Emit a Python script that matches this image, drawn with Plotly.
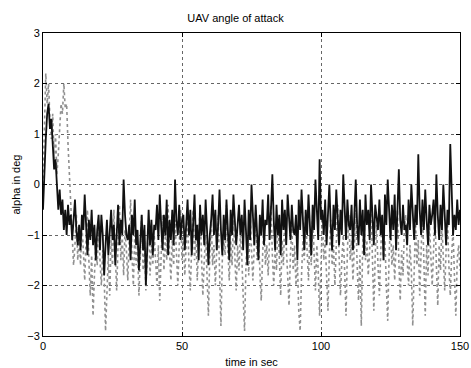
import numpy as np
import plotly.graph_objects as go

# Black (solid) series, sampled every 0.5 s, 0..150 s
black_0_10 = [-0.5, 0.4, 0.9, 1.4, 1.6, 1.1, 1.3, 0.8, 0.3, 0.5, -0.1, -0.5, -0.1, -0.6, -0.3, -0.9, -0.5, -1.0, -0.4, -0.8, -0.6]
black_rest = [
    -1.1, -0.7, -0.3, -0.9, -1.2, -0.8, -1.3, -0.6, -0.9, -0.2, -1.0, -1.4, -0.7, -1.1, -0.5, -1.2, -0.8, -1.5, -0.9, -0.6,
    -1.3, -0.6, -1.0, -1.8, -1.2, -0.7, -1.4, -1.0, -0.5, -1.1, -0.8, -1.6, -0.9, -0.4, -1.2, -0.7, -1.0, 0.1, -0.6, -1.0,
    -1.1, -0.8, -1.5, -0.6, -1.0, -0.3, -1.2, -0.9, -1.7, -1.1, -0.6, -1.3, -0.8, -2.0, -1.0, -0.5, -1.2, -0.7, -1.4, -0.8,
    -0.9, -0.4, -1.1, -0.2, -0.8, -1.3, -0.6, -1.0, -0.3, -1.4, -0.7, -1.1, -0.5, -1.2, 0.1, -0.7, -1.0, -0.4, -1.1, -0.7,
    -0.6, -1.3, -0.8, -0.3, -1.0, -0.5, -1.4, -0.7, -0.2, -1.1, -0.8, -1.5, -0.4, -1.0, -0.6, -1.2, -0.3, -0.9, -1.6, -1.0,
    -0.7, -0.2, -1.0, -0.5, -1.3, -0.8, -0.1, -0.9, -1.4, -0.6, -1.1, -0.3, -0.8, -1.5, -0.5, -1.0, -0.2, -0.7, -1.2, -0.8,
    -0.4, -1.0, -0.6, -1.3, -0.3, -0.9, -1.6, -0.5, -1.1, 0.0, -0.7, -1.2, -0.4, -0.9, -1.5, -0.6, -1.0, -0.3, -1.2, -0.7,
    -0.8, -0.2, -1.1, -0.5, 0.2, -0.7, -1.3, -0.4, -1.0, -0.6, -1.4, -0.3, -0.9, -0.5, -1.2, -0.2, -0.8, -1.1, -0.4, -0.9,
    -1.0, -0.6, -1.5, -0.3, -0.9, -0.1, -0.7, -1.3, -0.5, -1.0, -0.2, -0.8, -1.4, -0.4, -0.9, 0.1, -0.6, -1.1, 0.5, -0.7,
    -0.5, -1.0, -0.3, -1.2, -0.6, 0.0, -0.8, -1.3, -0.4, -0.9, -0.1, -0.7, -1.2, -0.5, -1.0, 0.2, -0.6, -1.1, -0.3, -0.8,
    -0.9, -0.4, -1.3, -0.6, 0.1, -0.8, -1.2, -0.3, -1.0, -0.5, -1.4, -0.2, -0.8, -0.5, -1.1, 0.0, -0.7, -1.2, -0.4, -0.7,
    -0.9, -0.3, -1.0, -0.6, -1.5, -0.2, -0.8, 0.1, -0.6, -1.1, -0.4, -0.9, -0.2, -1.3, -0.5, 0.3, -0.7, -1.0, -0.4, -0.9,
    -0.8, -1.2, -0.3, -0.9, 0.0, -0.6, -1.1, -0.4, -0.8, 0.6, -0.5, -1.0, -0.3, -0.9, -0.1, -0.7, -1.2, -0.4, -0.8, -0.6,
    -0.3, -1.0, 0.2, -0.6, -1.1, -0.4, -0.9, 0.0, -0.7, -1.2, -0.5, -0.8, 0.8, -0.4, -1.0, -0.6, -0.9, -0.3, -0.8, -0.5,
]
black = black_0_10 + black_rest

# Gray (dotted) series, sampled every 0.5 s, 0..150 s
gray_0_10 = [0.0, 1.0, 2.2, 1.6, 2.0, 1.3, 0.9, 1.4, 0.5, 1.0, 0.2, 0.6, 1.2, 1.6, 1.4, 2.0, 1.5, 1.6, 0.8, 0.2, -0.4]
gray_rest = [
    -1.0, -1.6, -1.2, -0.6, -1.5, -1.0, -1.6, -0.8, -1.3, -1.9, -1.1, -0.5, -1.5, -2.2, -1.4, -2.6, -1.8, -1.2, -1.6, -0.7,
    -1.5, -2.0, -1.3, -1.8, -2.9, -1.9, -1.4, -2.2, -1.1, -1.6, -0.5, -1.4, -2.1, -1.2, -0.4, -1.5, -1.0, -1.8, -0.9, -1.3,
    -1.9, -1.1, -0.3, -1.4, -2.0, -1.0, -1.6, -1.2, -2.2, -1.4, -0.6, -1.7, -1.1, -2.1, -1.3, -0.7, -1.8, -1.2, -1.6, -1.0,
    -1.5, -2.0, -1.2, -2.3, -1.4, -0.6, -1.7, -1.0, -1.5, -0.4, -1.3, -1.9, -1.1, -1.6, -0.7, -1.4, -2.0, -1.2, -0.5, -1.5,
    -1.1, -1.8, -1.3, -0.6, -1.6, -2.1, -1.2, -0.5, -1.5, -1.0, -1.9, -1.3, -0.4, -1.4, -2.2, -1.5, -1.0, -1.8, -2.6, -1.4,
    -0.7, -1.6, -1.2, -2.0, -1.3, -0.6, -1.7, -2.8, -1.5, -1.0, -1.4, -0.4, -1.3, -1.9, -1.1, -1.6, -0.7, -1.5, -2.1, -1.2,
    -1.7, -1.0, -1.4, -2.2, -2.9, -1.6, -1.1, -1.8, -0.6, -1.3, -1.9, -1.2, -0.5, -1.5, -1.0, -1.7, -2.3, -1.4, -0.7, -1.6,
    -1.2, -1.8, -1.0, -0.4, -1.4, -2.0, -1.3, -1.7, -0.7, -1.5, -2.2, -1.1, -1.6, -0.6, -1.3, -1.9, -2.4, -1.4, -0.8, -1.7,
    -1.2, -2.0, -1.5, -2.5, -2.9, -1.8, -1.1, -1.5, -0.5, -1.3, -1.9, -1.0, -1.6, -0.6, -1.4, -2.1, -1.2, -1.7, -2.6, -1.3,
    -0.6, -1.5, -1.1, -1.8, -2.5, -1.4, -0.7, -1.6, -1.2, -2.0, -1.0, -0.4, -1.4, -2.2, -1.5, -1.0, -1.7, -2.6, -1.3, -0.6,
    -1.5, -1.1, -1.9, -1.3, -0.5, -1.6, -2.3, -1.4, -2.8, -1.2, -0.7, -1.5, -1.1, -1.8, -1.3, -0.4, -1.7, -2.5, -1.4, -0.8,
    -1.6, -2.2, -1.3, -0.6, -1.5, -1.1, -2.0, -2.7, -1.4, -0.7, -1.6, -1.2, -1.9, -1.0, -0.5, -1.5, -2.3, -1.3, -1.8, -0.9,
    -0.6, -1.5, -2.0, -1.2, -1.7, -2.8, -1.4, -0.7, -1.6, -1.1, -2.2, -1.3, -0.5, -1.5, -2.6, -1.2, -1.8, -0.8, -1.4, -2.0,
    -1.3, -0.6, -1.6, -2.4, -1.2, -1.7, -0.8, -1.5, -2.1, -1.3, -0.7, -1.6, -2.2, -1.4, -0.9, -1.8, -2.6, -1.5, -1.2, -1.7,
]
gray = gray_0_10 + gray_rest

t_black = np.linspace(0, 150, len(black))
t_gray = np.linspace(0, 150, len(gray))

x_ticks = [0, 50, 100, 150]
y_ticks = [-3, -2, -1, 0, 1, 2, 3]

font = "Liberation Sans, Arial, sans-serif"

fig = go.Figure()
fig.add_trace(go.Scatter(x=t_gray, y=gray, mode="lines",
                         line=dict(color="#909090", width=1.6, dash="dot"),
                         showlegend=False))
fig.add_trace(go.Scatter(x=t_black, y=black, mode="lines",
                         line=dict(color="#111111", width=1.8),
                         showlegend=False))

axis_common = dict(showline=True, linecolor="black", linewidth=1, mirror="ticks",
                   ticks="inside", ticklen=4, tickcolor="black", automargin=False,
                   showgrid=True, gridcolor="#666666", griddash="dot", gridwidth=1,
                   zeroline=False, tickfont=dict(family=font, size=11, color="black"))

fig.update_layout(
    width=471, height=368,
    margin=dict(l=43, r=11, t=33, b=32),
    paper_bgcolor="white", plot_bgcolor="white",
    title=dict(text="UAV angle of attack", x=0.5, xanchor="center",
               y=1 - 18 / 368, yanchor="middle", yref="container",
               font=dict(family=font, size=11, color="black")),
    xaxis=dict(range=[0, 150], tickvals=x_ticks,
               title=dict(text="time in sec",
                          font=dict(family=font, size=11, color="black")),
               **axis_common),
    yaxis=dict(range=[-3, 3], tickvals=y_ticks, **axis_common),
    annotations=[dict(text="alpha in deg", textangle=-90, showarrow=False,
                      xref="paper", yref="paper", x=(15 - 43) / 417, y=0.5,
                      xanchor="center", yanchor="middle",
                      font=dict(family=font, size=11, color="black"))],
)

fig.write_html("out.html")
